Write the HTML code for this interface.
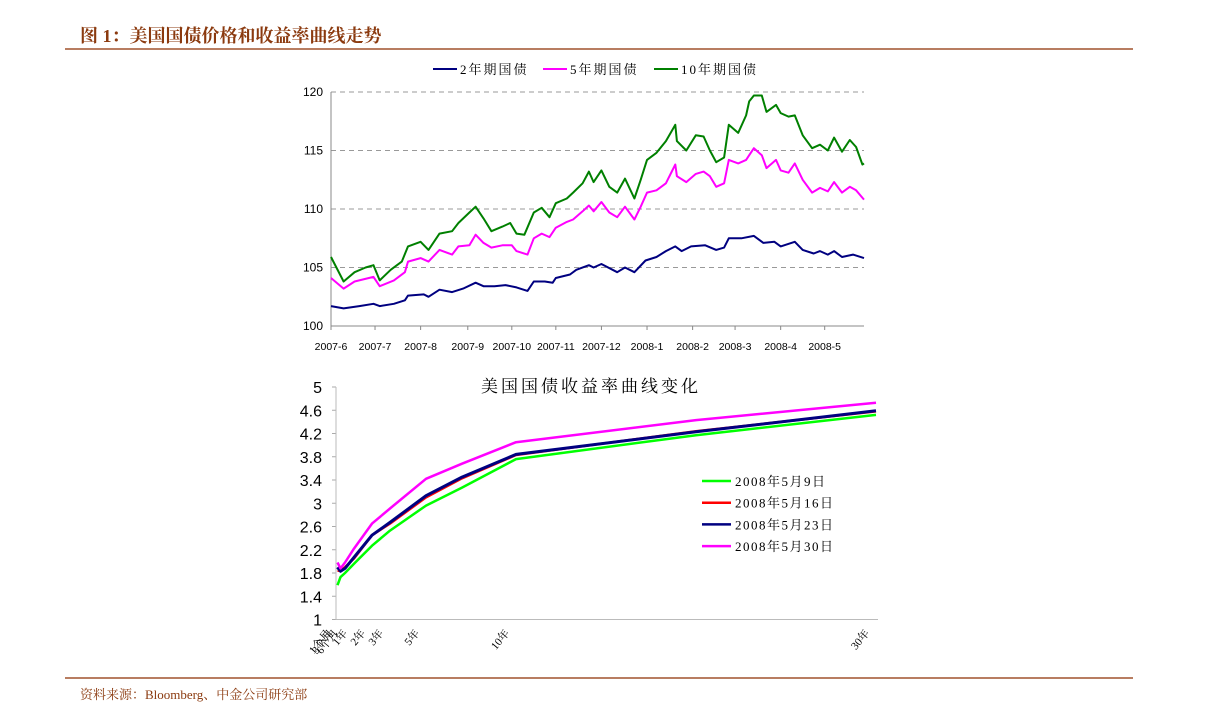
<!DOCTYPE html>
<html><head><meta charset="utf-8"><style>
body{margin:0;background:#fff;}
#wrap{position:relative;width:1224px;height:724px;overflow:hidden;font-family:"Liberation Serif","Noto Serif CJK SC",serif;}
</style></head><body>
<div id="wrap">
<svg id="svg" width="1224" height="724" xmlns="http://www.w3.org/2000/svg">
<text x="80" y="42" font-size="18" fill="#8B3A0F" font-family="Liberation Serif, Noto Serif CJK SC, serif" font-weight="bold">图 1：美国国债价格和收益率曲线走势</text>
<line x1="65" y1="49" x2="1133" y2="49" stroke="#A0522D" stroke-width="1.5"/>
<line x1="65" y1="678" x2="1133" y2="678" stroke="#A0522D" stroke-width="1.5"/>
<text x="80" y="699" font-size="13" fill="#8B3A0F" font-family="Liberation Serif, Noto Serif CJK SC, serif">资料来源：Bloomberg、中金公司研究部</text>
<g id="topChart"></g>
<g id="botChart"></g>
</svg>
</div>
<script>
// ---- Top chart data (x = trading-day index) ----
const tenYDays=[0,8,15,22,27,31,38,45,49,57,62,69,77,81,88,92,97,102,109,114,118,123,129,134,139,143,150,154,160,164,167,172,177,182,187,193,197,201,207,213,219,220,226,232,237,241,245,250,253,259,264,266,269,274,277,283,286,291,295,300,306,311,316,320,325,330,334,338,339];
const tenYVals=[105.9,103.8,104.6,105.0,105.2,103.9,104.8,105.5,106.8,107.2,106.5,107.9,108.1,108.8,109.7,110.2,109.2,108.1,108.5,108.8,107.9,107.8,109.7,110.1,109.3,110.5,110.9,111.4,112.2,113.2,112.3,113.3,111.9,111.4,112.6,110.9,112.5,114.2,114.8,115.8,117.2,115.8,115.0,116.3,116.2,115.0,114.0,114.4,117.2,116.5,118.0,119.2,119.7,119.7,118.3,118.9,118.2,117.9,118.0,116.3,115.2,115.5,115.0,116.1,114.9,115.9,115.3,113.8,113.9];
const fiveYDays=[0,8,15,27,31,40,47,49,57,62,69,77,81,88,92,97,102,109,115,118,125,129,134,139,143,150,154,160,164,167,172,177,182,187,193,197,201,207,213,219,220,226,232,237,241,245,250,253,259,264,266,269,274,277,283,286,291,295,300,306,311,316,320,325,330,334,339];
const fiveYVals=[104.1,103.2,103.8,104.2,103.4,103.9,104.6,105.5,105.8,105.5,106.5,106.1,106.8,106.9,107.8,107.1,106.7,106.9,106.9,106.4,106.1,107.5,107.9,107.6,108.4,108.9,109.1,109.8,110.3,109.8,110.6,109.7,109.3,110.2,109.1,110.2,111.4,111.6,112.2,113.8,112.8,112.3,113.0,113.2,112.8,111.9,112.2,114.2,113.9,114.2,114.6,115.2,114.6,113.5,114.2,113.3,113.1,113.9,112.5,111.4,111.8,111.5,112.3,111.4,111.9,111.6,110.8];
const twoYDays=[0,8,18,27,31,40,47,49,59,62,69,77,84,92,97,104,111,118,125,129,136,141,143,152,156,164,167,172,182,187,193,200,207,213,219,223,229,238,245,250,253,261,269,275,282,286,295,300,307,311,316,320,325,332,339];
const twoYVals=[101.7,101.5,101.7,101.9,101.7,101.9,102.2,102.6,102.7,102.5,103.1,102.9,103.2,103.7,103.4,103.4,103.5,103.3,103.0,103.8,103.8,103.7,104.1,104.4,104.8,105.2,105.0,105.3,104.6,105.0,104.6,105.6,105.9,106.4,106.8,106.4,106.8,106.9,106.5,106.7,107.5,107.5,107.7,107.1,107.2,106.8,107.2,106.5,106.2,106.4,106.1,106.4,105.9,106.1,105.8];
const monthTickIdx=[0,28,57,87,115,143,172,201,230,257,286,314];
const monthLabels=["2007-6","2007-7","2007-8","2007-9","2007-10","2007-11","2007-12","2008-1","2008-2","2008-3","2008-4","2008-5"];
const priceTicks=[100,105,110,115,120];
const topLegend=["2年期国债","5年期国债","10年期国债"];

// ---- Bottom chart data ----
const maturities=[1/12,0.25,0.5,1,2,3,5,7,10,20,30];
const y0509=[1.59,1.73,1.80,1.96,2.27,2.53,2.96,3.27,3.76,4.17,4.52];
const y0516=[1.84,1.84,1.90,2.05,2.45,2.65,3.10,3.43,3.83,4.24,4.58];
const y0523=[1.90,1.83,1.88,2.07,2.45,2.67,3.13,3.45,3.84,4.23,4.59];
const y0530=[1.98,1.88,1.98,2.22,2.65,2.91,3.42,3.68,4.05,4.43,4.73];
const matLabels=["1个月","3个月","6个月","1年","2年","3年","5年","10年","30年"];
const matLabelYrs=[1/12,0.25,0.5,1,2,3,5,10,30];
const yieldTicks=[1,1.4,1.8,2.2,2.6,3,3.4,3.8,4.2,4.6,5];
const botLegend=["2008年5月9日","2008年5月16日","2008年5月23日","2008年5月30日"];

const NS="http://www.w3.org/2000/svg";
function mk(parent,tag,attrs,text){const e=document.createElementNS(NS,tag);for(const k in attrs)e.setAttribute(k,attrs[k]);if(text!==undefined)e.textContent=text;parent.appendChild(e);return e;}

// Top chart
const topG=document.getElementById('topChart');
const TL=331,TR=864,TT=92,TB=326;
const tx=d=>TL+(TR-TL)*d/339;
const ty=v=>TB-(TB-TT)*(v-100)/20;
priceTicks.forEach(v=>{
  if(v>100){const g=mk(topG,'line',{x1:TL,x2:TR,y1:ty(v),y2:ty(v),stroke:'#999','stroke-dasharray':'5,4'});
  
  }
  const t=mk(topG,'text',{x:TL-8,y:ty(v)+4,'text-anchor':'end','font-size':12,'font-family':'Liberation Sans, sans-serif'},String(v));
  
  
});
let ax=mk(topG,'path',{d:`M${TL},${TT} V${TB} H${TR}`,fill:'none',stroke:'#888'});


monthTickIdx.forEach((d,i)=>{
  const x=tx(d);
  const tk=mk(topG,'line',{x1:x,x2:x,y1:TB,y2:TB+4,stroke:'#888'});
  
  
  const t=mk(topG,'text',{x:x,y:TB+24,'text-anchor':'middle','font-size':10.5,'font-family':'Liberation Sans, sans-serif'},monthLabels[i]);
  
  
});
function tline(days,vals,color,name){
  const d=days.map((x,i)=>(i?'L':'M')+tx(x).toFixed(1)+','+ty(vals[i]).toFixed(1)).join(' ');
  const p=mk(topG,'path',{d:d,fill:'none',stroke:color,'stroke-width':2,'stroke-linejoin':'round'});
  
  
}
tline(twoYDays,twoYVals,'#000080','series-2y');
tline(fiveYDays,fiveYVals,'#FF00FF','series-5y');
tline(tenYDays,tenYVals,'#008000','series-10y');
const tcol=['#000080','#FF00FF','#008000'];
const tlx=[433,543,654];
topLegend.forEach((s,i)=>{
  const g=mk(topG,'g',{});
  
  
  mk(g,'line',{x1:tlx[i],x2:tlx[i]+24,y1:69,y2:69,stroke:tcol[i],'stroke-width':2});
  mk(g,'text',{x:tlx[i]+27,y:74,'font-size':13,'letter-spacing':2},s);
});

// Bottom chart
const botG=document.getElementById('botChart');
const BL=336,BT=387,BB=619.5;
const bx=m=>BL+18*m;
const by=v=>BB-(BB-BT)*(v-1)/4;
yieldTicks.forEach(v=>{
  const t=mk(botG,'text',{x:BL-14,y:by(v)+6,'text-anchor':'end','font-size':16,'font-family':'Liberation Sans, sans-serif'},String(v));
  
  
  const k=mk(botG,'line',{x1:BL-4,x2:BL,y1:by(v),y2:by(v),stroke:'#aaa'});
  
  
});
ax=mk(botG,'path',{d:`M${BL},${BT} V${BB} H${bx(30)+2}`,fill:'none',stroke:'#bbb'});


matLabels.forEach((s,i)=>{
  const x=bx(matLabelYrs[i])-6, y=BB+14;
  const t=mk(botG,'text',{x:x,y:y,'text-anchor':'end','font-size':11,transform:`rotate(-50 ${x} ${y})`},s);
  
  
});
const bt=mk(botG,'text',{x:591,y:392,'text-anchor':'middle','font-size':17,'letter-spacing':3},'美国国债收益率曲线变化');


const bcol=['#00FF00','#FF0000','#000080','#FF00FF'];
[y0509,y0516,y0523,y0530].forEach((vals,j)=>{
  const d=maturities.map((m,i)=>(i?'L':'M')+bx(m).toFixed(1)+','+by(vals[i]).toFixed(1)).join(' ');
  const p=mk(botG,'path',{d:d,fill:'none',stroke:bcol[j],'stroke-width':j==2?3:2.5,'stroke-linejoin':'round'});
  
  
});
botLegend.forEach((s,i)=>{
  const y=481+i*21.7;
  const g=mk(botG,'g',{});
  
  
  mk(g,'line',{x1:702,x2:731,y1:y,y2:y,stroke:bcol[i],'stroke-width':2.5});
  mk(g,'text',{x:735,y:y+5,'font-size':13,'letter-spacing':1.5},s);
});
</script>
</body></html>
